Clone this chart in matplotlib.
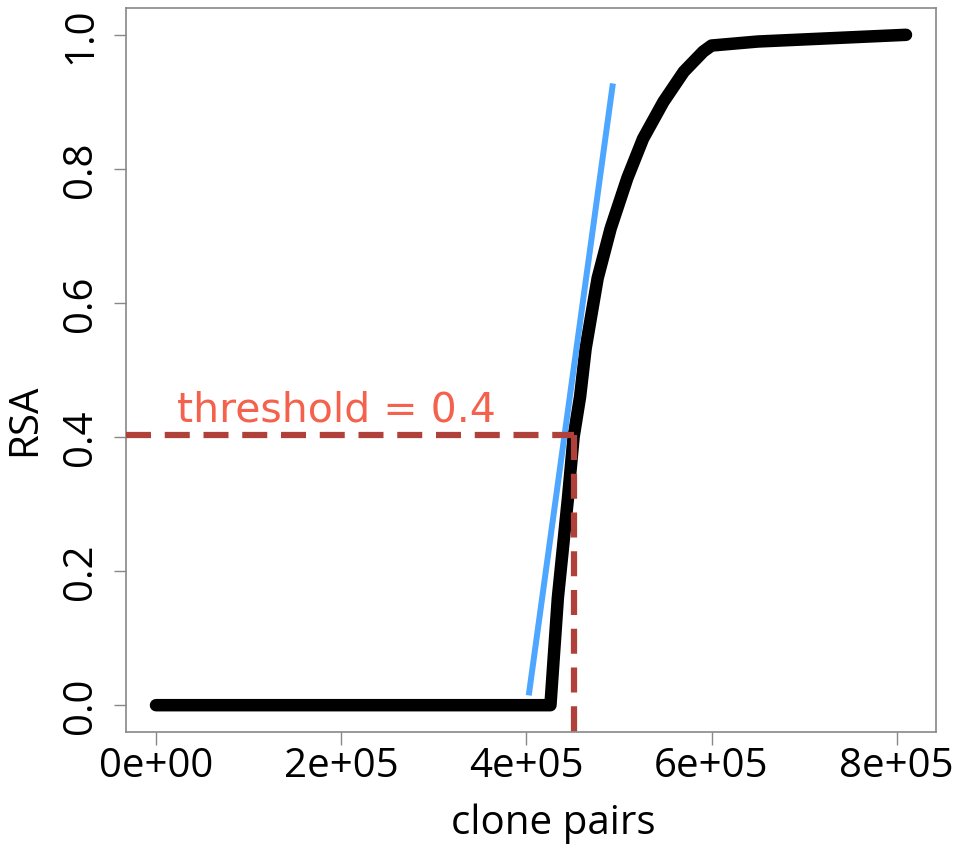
import matplotlib
matplotlib.use("Agg")
import matplotlib.pyplot as plt

# RSA curve
clone_pairs = [0, 4.26e5, 4.34e5, 4.45e5, 4.51e5, 4.58e5, 4.64e5, 4.77e5,
               4.91e5, 5.09e5, 5.26e5, 5.48e5, 5.70e5, 5.91e5, 6.00e5,
               6.5e5, 7.3e5, 8.1e5]
rsa = [0, 0, 0.16, 0.31, 0.40, 0.46, 0.532, 0.637,
       0.711, 0.786, 0.845, 0.900, 0.945, 0.975, 0.984,
       0.990, 0.995, 1.0]

# tangent line at the threshold
tangent_x = [4.03e5, 4.93e5]
tangent_y = [0.019, 0.923]

threshold = 0.403
threshold_x = 4.51e5
xticks = [0, 2e5, 4e5, 6e5, 8e5]
xticklabels = ["0e+00", "2e+05", "4e+05", "6e+05", "8e+05"]
yticks = [0.0, 0.2, 0.4, 0.6, 0.8, 1.0]
yticklabels = ["0.0", "0.2", "0.4", "0.6", "0.8", "1.0"]

plt.rcParams["font.family"] = ["Open Sans", "DejaVu Sans"]

fig = plt.figure(figsize=(9.54, 8.45), dpi=100)
ax = fig.add_axes([126 / 954, 112 / 845, 810 / 954, 724 / 845])

ax.plot(clone_pairs, rsa, color="black", lw=9, solid_capstyle="round",
        solid_joinstyle="round", zorder=3)
ax.plot(tangent_x, tangent_y, color="#4da6ff", lw=4.3, zorder=4)

xmin, xmax = -3.24e4, 8.424e5
ymin, ymax = -0.04, 1.04
ax.plot([xmin, threshold_x], [threshold, threshold], color="#b0413a", lw=4.5,
        dashes=(4, 2.2), zorder=5)
ax.plot([threshold_x, threshold_x], [threshold, ymin], color="#b0413a", lw=4.5,
        dashes=(4, 2.2), zorder=5)
ax.text(2.27e4, 0.424, "threshold = 0.4", color="#f4614c", fontsize=29.5,
        family="DejaVu Sans", ha="left", va="baseline", zorder=6)

ax.set_xlim(xmin, xmax)
ax.set_ylim(ymin, ymax)
ax.set_xticks(xticks)
ax.set_xticklabels(xticklabels)
ax.set_yticks(yticks)
ax.set_yticklabels(yticklabels, rotation=90, va="center")

for s in ax.spines.values():
    s.set_color("#888888")
    s.set_linewidth(1.2)
ax.tick_params(axis="both", colors="#888888", labelcolor="black",
               length=9, width=1.0, labelsize=29)
ax.tick_params(axis="x", pad=1)
ax.tick_params(axis="y", pad=9)

ax.set_xlabel("clone pairs", fontsize=29)
ax.set_ylabel("RSA", fontsize=29)
ax.xaxis.set_label_coords(0.527, -0.098)
ax.yaxis.set_label_coords(-0.1, 0.432)

fig.savefig("out.png", dpi=100)
